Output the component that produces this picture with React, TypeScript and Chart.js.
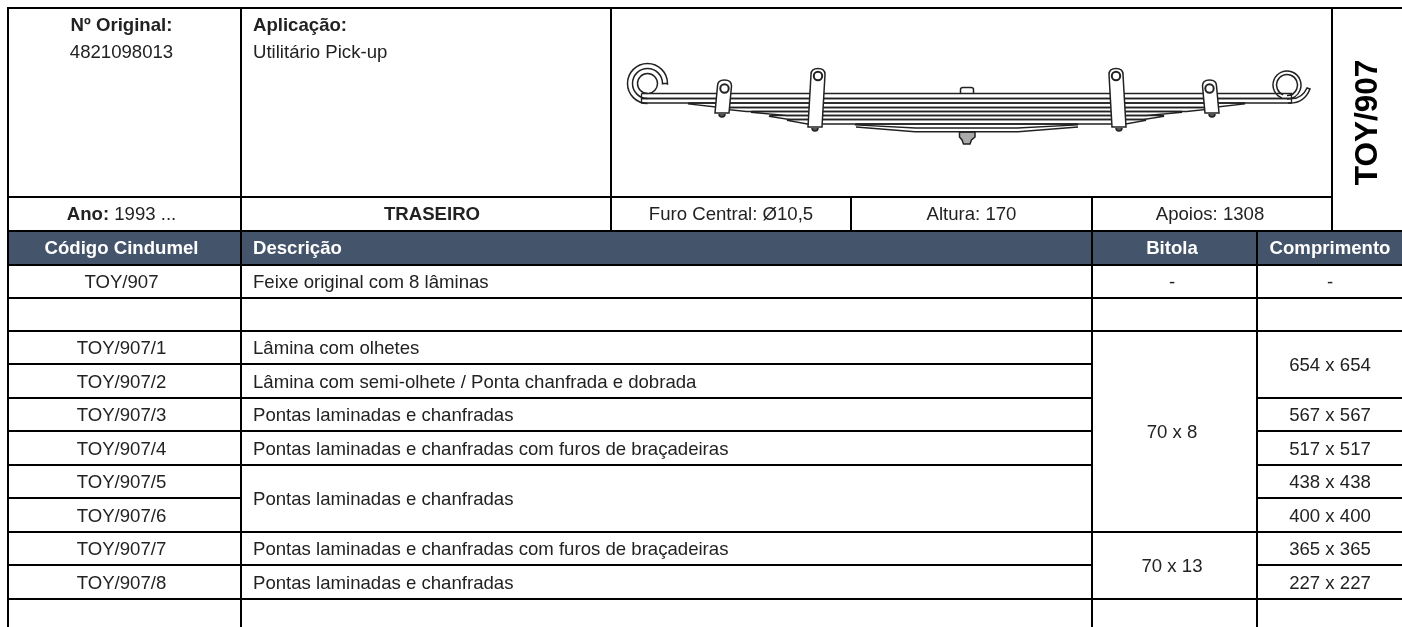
import React, { useEffect, useRef } from "react";
import { Chart, registerables } from "chart.js";

Chart.register(...registerables);

// ---- table content ----
const codes = ["TOY/907", "", "TOY/907/1", "TOY/907/2", "TOY/907/3", "TOY/907/4", "TOY/907/5", "TOY/907/6", "TOY/907/7", "TOY/907/8"];
const descriptions = [
  "Feixe original com 8 lâminas",
  "",
  "Lâmina com olhetes",
  "Lâmina com semi-olhete / Ponta chanfrada e dobrada",
  "Pontas laminadas e chanfradas",
  "Pontas laminadas e chanfradas com furos de braçadeiras",
  "Pontas laminadas e chanfradas",
  "Pontas laminadas e chanfradas com furos de braçadeiras",
  "Pontas laminadas e chanfradas",
];
const bitolas = ["-", "70 x 8", "70 x 13"];
const comprimentos = ["-", "654 x 654", "567 x 567", "517 x 517", "438 x 438", "400 x 400", "365 x 365", "227 x 227"];
const headers = ["Código Cindumel", "Descrição", "Bitola", "Comprimento"];

// ---- spring leaves (half length, in px of the picture) ----
const leafHalfLengths = [325, 325, 278, 250, 215, 197, 179, 111];
const leafTaper = [0, 0, 32, 30, 35, 20, 20, 60];

// ---- table frame ----
const rowEdges = [8, 197, 231, 265, 298, 331, 364, 398, 431, 465, 498, 532, 565, 599, 627];
const colEdges = { a: 8, b: 241, m1: 611, m2: 851, c: 1092, m3: 1332, d: 1257, e: 1402 };
const leafLevels = [93.5, 98.5, 103, 107.5, 111.5, 115.5, 119.5, 124, 128];
const springCentre = 966.5;

function gridPoints() {
  const { a, b, m1, m2, c, m3, d, e } = colEdges;
  const R = rowEdges;
  const segs: number[][] = [
    [a, R[0], e, R[0]], [a, R[1], m3, R[1]], [a, R[2], e, R[2]], [a, R[3], e, R[3]], [a, R[4], e, R[4]], [a, R[5], e, R[5]],
    [a, R[6], c, R[6]],
    [a, R[7], c, R[7]], [d, R[7], e, R[7]],
    [a, R[8], c, R[8]], [d, R[8], e, R[8]],
    [a, R[9], c, R[9]], [d, R[9], e, R[9]],
    [a, R[10], b, R[10]], [d, R[10], e, R[10]],
    [a, R[11], e, R[11]],
    [a, R[12], c, R[12]], [d, R[12], e, R[12]],
    [a, R[13], e, R[13]],
    [a, R[0], a, R[14]], [b, R[0], b, R[14]], [m1, R[0], m1, R[2]], [m2, R[1], m2, R[2]],
    [c, R[1], c, R[14]], [d, R[2], d, R[14]], [m3, R[0], m3, R[2]],
  ];
  const pts: any[] = [];
  segs.forEach(([x1, y1, x2, y2]) => {
    pts.push({ x: x1 - (y1 === y2 ? 1 : 0), y: y1 - (x1 === x2 ? 1 : 0) }, { x: x2 + (y1 === y2 ? 1 : 0), y: y2 + (x1 === x2 ? 1 : 0) }, { x: NaN, y: NaN });
  });
  return pts;
}

function leafPoints(i: number) {
  const h = leafHalfLengths[i];
  const t = leafTaper[i];
  const top = leafLevels[i];
  const bot = leafLevels[i + 1];
  const c = springCentre;
  return [
    { x: c - h, y: top }, { x: c + h, y: top }, { x: c + h, y: top + 1 }, { x: c + h - t, y: bot },
    { x: c - h + t, y: bot }, { x: c - h, y: top + 1 }, { x: c - h, y: top },
  ];
}

const tablePlugin = {
  id: "table",
  beforeDatasetsDraw(chart: any) {
    const { ctx, scales } = chart;
    const X = (v: number) => scales.x.getPixelForValue(v);
    const Y = (v: number) => scales.y.getPixelForValue(v);
    ctx.save();
    ctx.fillStyle = "#44546A";
    ctx.fillRect(X(colEdges.a), Y(rowEdges[2]), X(colEdges.e) - X(colEdges.a), Y(rowEdges[3]) - Y(rowEdges[2]));
    ctx.restore();
  },
  afterDatasetsDraw(chart: any) {
    const { ctx, scales } = chart;
    const X = (v: number) => scales.x.getPixelForValue(v);
    const Y = (v: number) => scales.y.getPixelForValue(v);
    const FONT = '"Liberation Sans", Arial, sans-serif';
    const SIZE = 18.6;
    ctx.save();

    // ---- spring hardware ----
    ctx.strokeStyle = "#222";
    ctx.lineWidth = 1.5;
    const clamp = (tx: number, bx: number, topY: number, botY: number, hy: number, w: number) => {
      ctx.fillStyle = "#fff";
      ctx.beginPath();
      ctx.moveTo(X(tx - w), Y(topY + 6));
      ctx.quadraticCurveTo(X(tx - w), Y(topY), X(tx), Y(topY));
      ctx.quadraticCurveTo(X(tx + w), Y(topY), X(tx + w), Y(topY + 6));
      ctx.lineTo(X(bx + w), Y(botY));
      ctx.lineTo(X(bx - w), Y(botY));
      ctx.closePath();
      ctx.fill();
      ctx.stroke();
      ctx.beginPath();
      ctx.arc(X(tx), Y(hy), 4.2, 0, Math.PI * 2);
      ctx.lineWidth = 2;
      ctx.stroke();
      ctx.lineWidth = 1.5;
      ctx.fillStyle = "#555";
      ctx.beginPath();
      ctx.arc(X(bx), Y(botY + 1), 3, 0, Math.PI);
      ctx.fill();
      ctx.stroke();
    };
    clamp(724.5, 722, 80, 113, 88.5, 7);
    clamp(818, 815, 68.5, 127, 76, 7);
    clamp(1116, 1119, 68.5, 127, 76, 7);
    clamp(1209.5, 1212, 80, 113, 88.5, 7);

    // left eye
    const lx = X(647.5), ly = Y(83.5);
    [10, 15, 20].forEach((r, i) => {
      ctx.beginPath();
      ctx.arc(lx, ly, r, Math.PI / 2, i === 0 ? Math.PI * 2.45 : Math.PI * 2.02);
      ctx.stroke();
    });
    ctx.beginPath();
    ctx.moveTo(lx + 15, ly);
    ctx.lineTo(lx + 20, ly);
    ctx.stroke();

    // right eye and the bent tip
    const rx = X(1287), ry = Y(85);
    [10.5, 14].forEach((r) => {
      ctx.beginPath();
      ctx.arc(rx, ry, r, Math.PI * 0.62, Math.PI * 2.5);
      ctx.stroke();
    });
    ctx.beginPath();
    ctx.moveTo(X(1288), Y(103));
    ctx.quadraticCurveTo(X(1304), Y(104), X(1310), Y(89));
    ctx.lineTo(X(1307), Y(88));
    ctx.quadraticCurveTo(X(1302), Y(99), X(1291), Y(98.5));
    ctx.stroke();

    // centre bolt
    ctx.beginPath();
    ctx.moveTo(X(960.5), Y(93));
    ctx.lineTo(X(960.5), Y(89.5));
    ctx.quadraticCurveTo(X(960.5), Y(87.5), X(963), Y(87.5));
    ctx.lineTo(X(971), Y(87.5));
    ctx.quadraticCurveTo(X(973.5), Y(87.5), X(973.5), Y(89.5));
    ctx.lineTo(X(973.5), Y(93));
    ctx.stroke();
    ctx.beginPath();
    ctx.moveTo(X(959.5), Y(132));
    ctx.lineTo(X(959.5), Y(137));
    ctx.lineTo(X(962), Y(140));
    ctx.lineTo(X(963.5), Y(144));
    ctx.lineTo(X(970), Y(144));
    ctx.lineTo(X(971.5), Y(140));
    ctx.lineTo(X(975), Y(137));
    ctx.lineTo(X(975), Y(132));
    ctx.closePath();
    ctx.fillStyle = "#aaa";
    ctx.fill();
    ctx.stroke();

    // last leaf belly
    ctx.beginPath();
    ctx.moveTo(X(856), Y(127));
    ctx.lineTo(X(915), Y(131.7));
    ctx.lineTo(X(1018), Y(131.7));
    ctx.lineTo(X(1078), Y(127));
    ctx.stroke();

    // ---- text ----
    const put = (t: string, x: number, y: number, align: CanvasTextAlign, font: string, color = "#222") => {
      ctx.font = font;
      ctx.fillStyle = color;
      ctx.textAlign = align;
      ctx.textBaseline = "middle";
      ctx.fillText(t, X(x), Y(y));
    };
    const reg = `${SIZE}px ${FONT}`;
    const bold = `bold ${SIZE}px ${FONT}`;
    const R = rowEdges;
    const mid = (i: number, j = i + 1) => (R[i] + R[j]) / 2 + 0.5;
    const body = (i: number, j = i + 1) => mid(i, j) + 1;
    const { b, m1, m2, c, m3 } = colEdges;
    const colA = 121.5;
    const colB = b + 12;
    const colC = 1172;
    const colD = 1330;

    put("Nº Original:", colA, 26, "center", bold);
    put("4821098013", colA, 53, "center", reg);
    put("Aplicação:", colB, 26, "left", bold);
    put("Utilitário Pick-up", colB, 53, "left", reg);

    ctx.font = bold;
    const ano = "Ano: ", anoV = "1993 ...";
    const w1 = ctx.measureText(ano).width;
    ctx.font = reg;
    const w2 = ctx.measureText(anoV).width;
    const start = colA - (w1 + w2) / 2;
    put(ano, start, mid(1), "left", bold);
    put(anoV, start + w1, mid(1), "left", reg);

    put("TRASEIRO", (b + m1) / 2 + 6, mid(1), "center", bold);
    put("Furo Central: Ø10,5", (m1 + m2) / 2, mid(1), "center", reg);
    put("Altura: 170", (m2 + c) / 2, mid(1), "center", reg);
    put("Apoios: 1308", (c + m3) / 2 - 2, mid(1), "center", reg);

    put(headers[0], colA, mid(2), "center", bold, "#fff");
    put(headers[1], colB, mid(2), "left", bold, "#fff");
    put(headers[2], colC, mid(2), "center", bold, "#fff");
    put(headers[3], colD, mid(2), "center", bold, "#fff");

    codes.forEach((t, i) => { if (t) put(t, colA, body(3 + i), "center", reg); });

    const descRows: [number, number][] = [[3, 4], [4, 5], [5, 6], [6, 7], [7, 8], [8, 9], [9, 11], [11, 12], [12, 13]];
    descriptions.forEach((t, i) => { if (t) put(t, colB, body(descRows[i][0], descRows[i][1]), "left", reg); });

    const bitolaRows: [number, number][] = [[3, 4], [5, 11], [11, 13]];
    bitolas.forEach((t, i) => put(t, colC, body(bitolaRows[i][0], bitolaRows[i][1]), "center", reg));

    const compRows: [number, number][] = [[3, 4], [5, 7], [7, 8], [8, 9], [9, 10], [10, 11], [11, 12], [12, 13]];
    comprimentos.forEach((t, i) => put(t, colD, body(compRows[i][0], compRows[i][1]), "center", reg));

    // rotated part number
    ctx.save();
    ctx.translate(X(1368.5), Y(122.5));
    ctx.rotate(-Math.PI / 2);
    ctx.font = `bold 31.5px ${FONT}`;
    ctx.fillStyle = "#000";
    ctx.textAlign = "center";
    ctx.textBaseline = "middle";
    ctx.fillText("TOY/907", 0, 0);
    ctx.restore();

    ctx.restore();
  },
};

export default function App() {
  const ref = useRef<HTMLCanvasElement>(null);
  useEffect(() => {
    const leafSets = leafHalfLengths.map((_, i) => ({
      label: `Lâmina ${i + 1}`,
      data: leafPoints(i),
      showLine: true,
      borderColor: "#222",
      borderWidth: 1.3,
      pointRadius: 0,
      tension: 0,
      clip: false,
    }));
    const chart = new Chart(ref.current!, {
      type: "scatter",
      data: {
        datasets: [
          {
            label: "grid",
            data: gridPoints(),
            showLine: true,
            spanGaps: false,
            borderColor: "#000",
            borderWidth: 2,
            pointRadius: 0,
            tension: 0,
            clip: false,
          },
          ...leafSets,
        ] as any,
      },
      options: {
        animation: false,
        responsive: false,
        layout: { padding: 0 },
        scales: {
          x: { type: "linear", display: false, min: 0, max: 1402 },
          y: { type: "linear", display: false, min: 0, max: 627, reverse: true },
        },
        plugins: { legend: { display: false }, tooltip: { enabled: false }, title: { display: false } },
      } as any,
      plugins: [tablePlugin] as any,
    });
    return () => chart.destroy();
  }, []);
  return (
    <div style={{ position: "absolute", left: 0, top: 0, width: 1402, height: 627, overflow: "hidden", background: "#fff" }}>
      <canvas ref={ref} width={1402} height={627} style={{ display: "block" }} />
    </div>
  );
}
